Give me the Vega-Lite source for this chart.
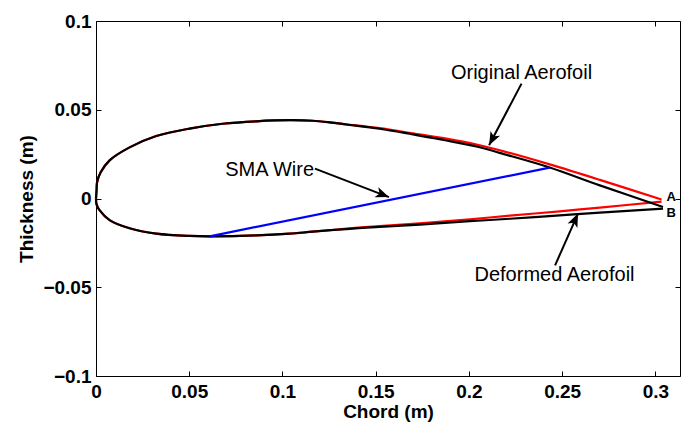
{
  "$schema": "https://vega.github.io/schema/vega-lite/v6.json",
  "width": 584,
  "height": 355,
  "autosize": {"type": "none"},
  "padding": {"left": 96, "top": 21, "right": 2, "bottom": 49},
  "background": "white",
  "config": {
    "view": {"stroke": "black", "strokeWidth": 1},
    "font": "Liberation Sans",
    "axis": {
      "grid": false,
      "domain": false,
      "tickColor": "black",
      "tickWidth": 1,
      "tickSize": -5,
      "labelFont": "Liberation Sans",
      "labelFontSize": 19,
      "labelFontWeight": "bold",
      "labelColor": "black",
      "labelFlush": false,
      "labelOverlap": false,
      "titleFont": "Liberation Sans",
      "titleFontSize": 19,
      "titleFontWeight": "bold",
      "titleColor": "black"
    }
  },
  "datasets": {
    "curves": [
      {"series": "Original", "part": "upper", "order": 1, "x": 0, "y": 0},
      {"series": "Original", "part": "upper", "order": 2, "x": 0.0003, "y": 0.0046},
      {"series": "Original", "part": "upper", "order": 3, "x": 0.0006, "y": 0.0093},
      {"series": "Original", "part": "upper", "order": 4, "x": 0.0025, "y": 0.0148},
      {"series": "Original", "part": "upper", "order": 5, "x": 0.0073, "y": 0.0215},
      {"series": "Original", "part": "upper", "order": 6, "x": 0.018, "y": 0.0288},
      {"series": "Original", "part": "upper", "order": 7, "x": 0.0323, "y": 0.0352},
      {"series": "Original", "part": "upper", "order": 8, "x": 0.0502, "y": 0.0394},
      {"series": "Original", "part": "upper", "order": 9, "x": 0.0679, "y": 0.0421},
      {"series": "Original", "part": "upper", "order": 10, "x": 0.086, "y": 0.0435},
      {"series": "Original", "part": "upper", "order": 11, "x": 0.1039, "y": 0.0441},
      {"series": "Original", "part": "upper", "order": 12, "x": 0.1162, "y": 0.0438},
      {"series": "Original", "part": "upper", "order": 13, "x": 0.1253, "y": 0.0429},
      {"series": "Original", "part": "upper", "order": 14, "x": 0.1343, "y": 0.0418},
      {"series": "Original", "part": "upper", "order": 15, "x": 0.1521, "y": 0.0396},
      {"series": "Original", "part": "upper", "order": 16, "x": 0.1699, "y": 0.0367},
      {"series": "Original", "part": "upper", "order": 17, "x": 0.1879, "y": 0.0337},
      {"series": "Original", "part": "upper", "order": 18, "x": 0.2058, "y": 0.03},
      {"series": "Original", "part": "upper", "order": 19, "x": 0.2165, "y": 0.0272},
      {"series": "Original", "part": "upper", "order": 20, "x": 0.2433, "y": 0.0192},
      {"series": "Original", "part": "upper", "order": 21, "x": 0.2702, "y": 0.0105},
      {"series": "Original", "part": "upper", "order": 22, "x": 0.3033, "y": -0.0006},
      {"series": "Original", "part": "lower", "order": 23, "x": 0.3033, "y": -0.0018},
      {"series": "Original", "part": "lower", "order": 24, "x": 0.2702, "y": -0.0051},
      {"series": "Original", "part": "lower", "order": 25, "x": 0.2487, "y": -0.0072},
      {"series": "Original", "part": "lower", "order": 26, "x": 0.2219, "y": -0.0097},
      {"series": "Original", "part": "lower", "order": 27, "x": 0.2004, "y": -0.0117},
      {"series": "Original", "part": "lower", "order": 28, "x": 0.1736, "y": -0.014},
      {"series": "Original", "part": "lower", "order": 29, "x": 0.1521, "y": -0.0155},
      {"series": "Original", "part": "lower", "order": 30, "x": 0.1343, "y": -0.017},
      {"series": "Original", "part": "lower", "order": 31, "x": 0.1162, "y": -0.0187},
      {"series": "Original", "part": "lower", "order": 32, "x": 0.1039, "y": -0.0198},
      {"series": "Original", "part": "lower", "order": 33, "x": 0.086, "y": -0.0208},
      {"series": "Original", "part": "lower", "order": 34, "x": 0.061, "y": -0.0213},
      {"series": "Original", "part": "lower", "order": 35, "x": 0.0502, "y": -0.0211},
      {"series": "Original", "part": "lower", "order": 36, "x": 0.0323, "y": -0.0198},
      {"series": "Original", "part": "lower", "order": 37, "x": 0.018, "y": -0.0168},
      {"series": "Original", "part": "lower", "order": 38, "x": 0.0073, "y": -0.0122},
      {"series": "Original", "part": "lower", "order": 39, "x": 0.0019, "y": -0.0066},
      {"series": "Original", "part": "lower", "order": 40, "x": 0.0003, "y": -0.0033},
      {"series": "Original", "part": "lower", "order": 41, "x": 0, "y": 0},
      {"series": "Deformed", "part": "upper", "order": 1, "x": 0, "y": 0},
      {"series": "Deformed", "part": "upper", "order": 2, "x": 0.0003, "y": 0.0046},
      {"series": "Deformed", "part": "upper", "order": 3, "x": 0.0006, "y": 0.0093},
      {"series": "Deformed", "part": "upper", "order": 4, "x": 0.0025, "y": 0.0148},
      {"series": "Deformed", "part": "upper", "order": 5, "x": 0.0073, "y": 0.0215},
      {"series": "Deformed", "part": "upper", "order": 6, "x": 0.018, "y": 0.0288},
      {"series": "Deformed", "part": "upper", "order": 7, "x": 0.0323, "y": 0.0352},
      {"series": "Deformed", "part": "upper", "order": 8, "x": 0.0502, "y": 0.0394},
      {"series": "Deformed", "part": "upper", "order": 9, "x": 0.0679, "y": 0.0421},
      {"series": "Deformed", "part": "upper", "order": 10, "x": 0.086, "y": 0.0435},
      {"series": "Deformed", "part": "upper", "order": 11, "x": 0.1039, "y": 0.0441},
      {"series": "Deformed", "part": "upper", "order": 12, "x": 0.1162, "y": 0.0438},
      {"series": "Deformed", "part": "upper", "order": 13, "x": 0.1253, "y": 0.0429},
      {"series": "Deformed", "part": "upper", "order": 14, "x": 0.1343, "y": 0.0417},
      {"series": "Deformed", "part": "upper", "order": 15, "x": 0.1521, "y": 0.0393},
      {"series": "Deformed", "part": "upper", "order": 16, "x": 0.1699, "y": 0.0361},
      {"series": "Deformed", "part": "upper", "order": 17, "x": 0.1879, "y": 0.0327},
      {"series": "Deformed", "part": "upper", "order": 18, "x": 0.2058, "y": 0.0289},
      {"series": "Deformed", "part": "upper", "order": 19, "x": 0.2165, "y": 0.0257},
      {"series": "Deformed", "part": "upper", "order": 20, "x": 0.2433, "y": 0.0175},
      {"series": "Deformed", "part": "upper", "order": 21, "x": 0.2702, "y": 0.0074},
      {"series": "Deformed", "part": "upper", "order": 22, "x": 0.3041, "y": -0.0048},
      {"series": "Deformed", "part": "lower", "order": 23, "x": 0.3041, "y": -0.0057},
      {"series": "Deformed", "part": "lower", "order": 24, "x": 0.2702, "y": -0.008},
      {"series": "Deformed", "part": "lower", "order": 25, "x": 0.2487, "y": -0.0095},
      {"series": "Deformed", "part": "lower", "order": 26, "x": 0.2219, "y": -0.0114},
      {"series": "Deformed", "part": "lower", "order": 27, "x": 0.2004, "y": -0.0128},
      {"series": "Deformed", "part": "lower", "order": 28, "x": 0.1736, "y": -0.0147},
      {"series": "Deformed", "part": "lower", "order": 29, "x": 0.1521, "y": -0.016},
      {"series": "Deformed", "part": "lower", "order": 30, "x": 0.1343, "y": -0.0172},
      {"series": "Deformed", "part": "lower", "order": 31, "x": 0.1162, "y": -0.0187},
      {"series": "Deformed", "part": "lower", "order": 32, "x": 0.1039, "y": -0.0198},
      {"series": "Deformed", "part": "lower", "order": 33, "x": 0.086, "y": -0.0208},
      {"series": "Deformed", "part": "lower", "order": 34, "x": 0.061, "y": -0.0213},
      {"series": "Deformed", "part": "lower", "order": 35, "x": 0.0502, "y": -0.0211},
      {"series": "Deformed", "part": "lower", "order": 36, "x": 0.0323, "y": -0.0198},
      {"series": "Deformed", "part": "lower", "order": 37, "x": 0.018, "y": -0.0168},
      {"series": "Deformed", "part": "lower", "order": 38, "x": 0.0073, "y": -0.0122},
      {"series": "Deformed", "part": "lower", "order": 39, "x": 0.0019, "y": -0.0066},
      {"series": "Deformed", "part": "lower", "order": 40, "x": 0.0003, "y": -0.0033},
      {"series": "Deformed", "part": "lower", "order": 41, "x": 0, "y": 0},
      {"series": "Wire", "part": "wire", "order": 1, "x": 0.061, "y": -0.0213},
      {"series": "Wire", "part": "wire", "order": 2, "x": 0.2433, "y": 0.0174}
    ],
    "arrows": [
      {"name": "Original", "x": 0.2282, "y": 0.0647, "tx": 0.2108, "ty": 0.03},
      {"name": "Wire", "x": 0.1174, "y": 0.0168, "tx": 0.1571, "ty": 0.0008},
      {"name": "Deformed", "x": 0.2462, "y": -0.0377, "tx": 0.2585, "ty": -0.0085}
    ],
    "notes": [
      {"kind": "label", "text": "Original Aerofoil", "x": 0.2282, "y": 0.0675},
      {"kind": "label", "text": "SMA Wire", "x": 0.0931, "y": 0.0125},
      {"kind": "label", "text": "Deformed Aerofoil", "x": 0.2459, "y": -0.0466},
      {"kind": "point", "text": "A", "x": 0.306, "y": -0.0015},
      {"kind": "point", "text": "B", "x": 0.306, "y": -0.0106}
    ]
  },
  "layer": [
    {
      "data": {"name": "curves"},
      "transform": [{"filter": "datum.series === 'Original'"}],
      "mark": {"type": "line", "color": "#ff0000", "strokeWidth": 2.2, "interpolate": "catmull-rom"},
      "encoding": {
        "x": {"field": "x", "type": "quantitative",
              "scale": {"domain": [0, 0.3132], "nice": false, "zero": false},
              "axis": {"orient": "bottom", "values": [0, 0.05, 0.1, 0.15, 0.2, 0.25, 0.3], "format": ".2~f", "title": "Chord (m)", "labelPadding": 11, "titlePadding": 1}},
        "y": {"field": "y", "type": "quantitative",
              "scale": {"domain": [-0.1, 0.1], "nice": false, "zero": false},
              "axis": {"orient": "left", "values": [-0.1, -0.05, 0, 0.05, 0.1], "format": ".2~f", "title": "Thickness (m)", "labelPadding": 10, "titlePadding": 6}},
        "detail": {"field": "part"},
        "order": {"field": "order", "type": "quantitative"}
      }
    },
    {
      "data": {"name": "curves"},
      "transform": [{"filter": "datum.series === 'Deformed'"}],
      "mark": {"type": "line", "color": "#000000", "strokeWidth": 2.2, "interpolate": "catmull-rom"},
      "encoding": {
        "x": {"field": "x", "type": "quantitative",
              "axis": {"orient": "top", "values": [0, 0.05, 0.1, 0.15, 0.2, 0.25, 0.3], "labels": false, "title": null}},
        "y": {"field": "y", "type": "quantitative",
              "axis": {"orient": "right", "values": [-0.1, -0.05, 0, 0.05, 0.1], "labels": false, "title": null}},
        "detail": {"field": "part"},
        "order": {"field": "order", "type": "quantitative"}
      }
    },
    {
      "data": {"name": "curves"},
      "transform": [{"filter": "datum.series === 'Wire'"}],
      "mark": {"type": "line", "color": "#0000ff", "strokeWidth": 2.2},
      "encoding": {
        "x": {"field": "x", "type": "quantitative", "axis": null},
        "y": {"field": "y", "type": "quantitative", "axis": null},
        "order": {"field": "order", "type": "quantitative"}
      }
    },
    {
      "data": {"name": "arrows"},
      "mark": {"type": "rule", "color": "black", "strokeWidth": 2},
      "encoding": {
        "x": {"field": "x", "type": "quantitative", "axis": null},
        "y": {"field": "y", "type": "quantitative", "axis": null},
        "x2": {"field": "tx"},
        "y2": {"field": "ty"}
      }
    },
    {
      "data": {"name": "arrows"},
      "mark": {"type": "point", "shape": "M0,0L-0.8,2L0,1.5L0.8,2Z", "filled": true, "color": "black", "size": 180, "opacity": 1, "strokeWidth": 0},
      "encoding": {
        "x": {"field": "tx", "type": "quantitative", "axis": null},
        "y": {"field": "ty", "type": "quantitative", "axis": null},
        "angle": {"field": "name", "type": "nominal", "legend": null,
                  "scale": {"type": "ordinal", "domain": ["Original", "Wire", "Deformed"], "range": [207.7, 110.9, 24.3]}}
      }
    },
    {
      "data": {"name": "notes"},
      "transform": [{"filter": "datum.kind === 'label'"}],
      "mark": {"type": "text", "font": "Liberation Sans", "fontSize": 20, "color": "black", "align": "center", "baseline": "alphabetic"},
      "encoding": {
        "x": {"field": "x", "type": "quantitative", "axis": null},
        "y": {"field": "y", "type": "quantitative", "axis": null},
        "text": {"field": "text"}
      }
    },
    {
      "data": {"name": "notes"},
      "transform": [{"filter": "datum.kind === 'point'"}],
      "mark": {"type": "text", "font": "Liberation Sans", "fontSize": 13, "fontWeight": "bold", "color": "black", "align": "left", "baseline": "alphabetic"},
      "encoding": {
        "x": {"field": "x", "type": "quantitative", "axis": null},
        "y": {"field": "y", "type": "quantitative", "axis": null},
        "text": {"field": "text"}
      }
    }
  ],
  "resolve": {"axis": {"x": "independent", "y": "independent"}}
}
